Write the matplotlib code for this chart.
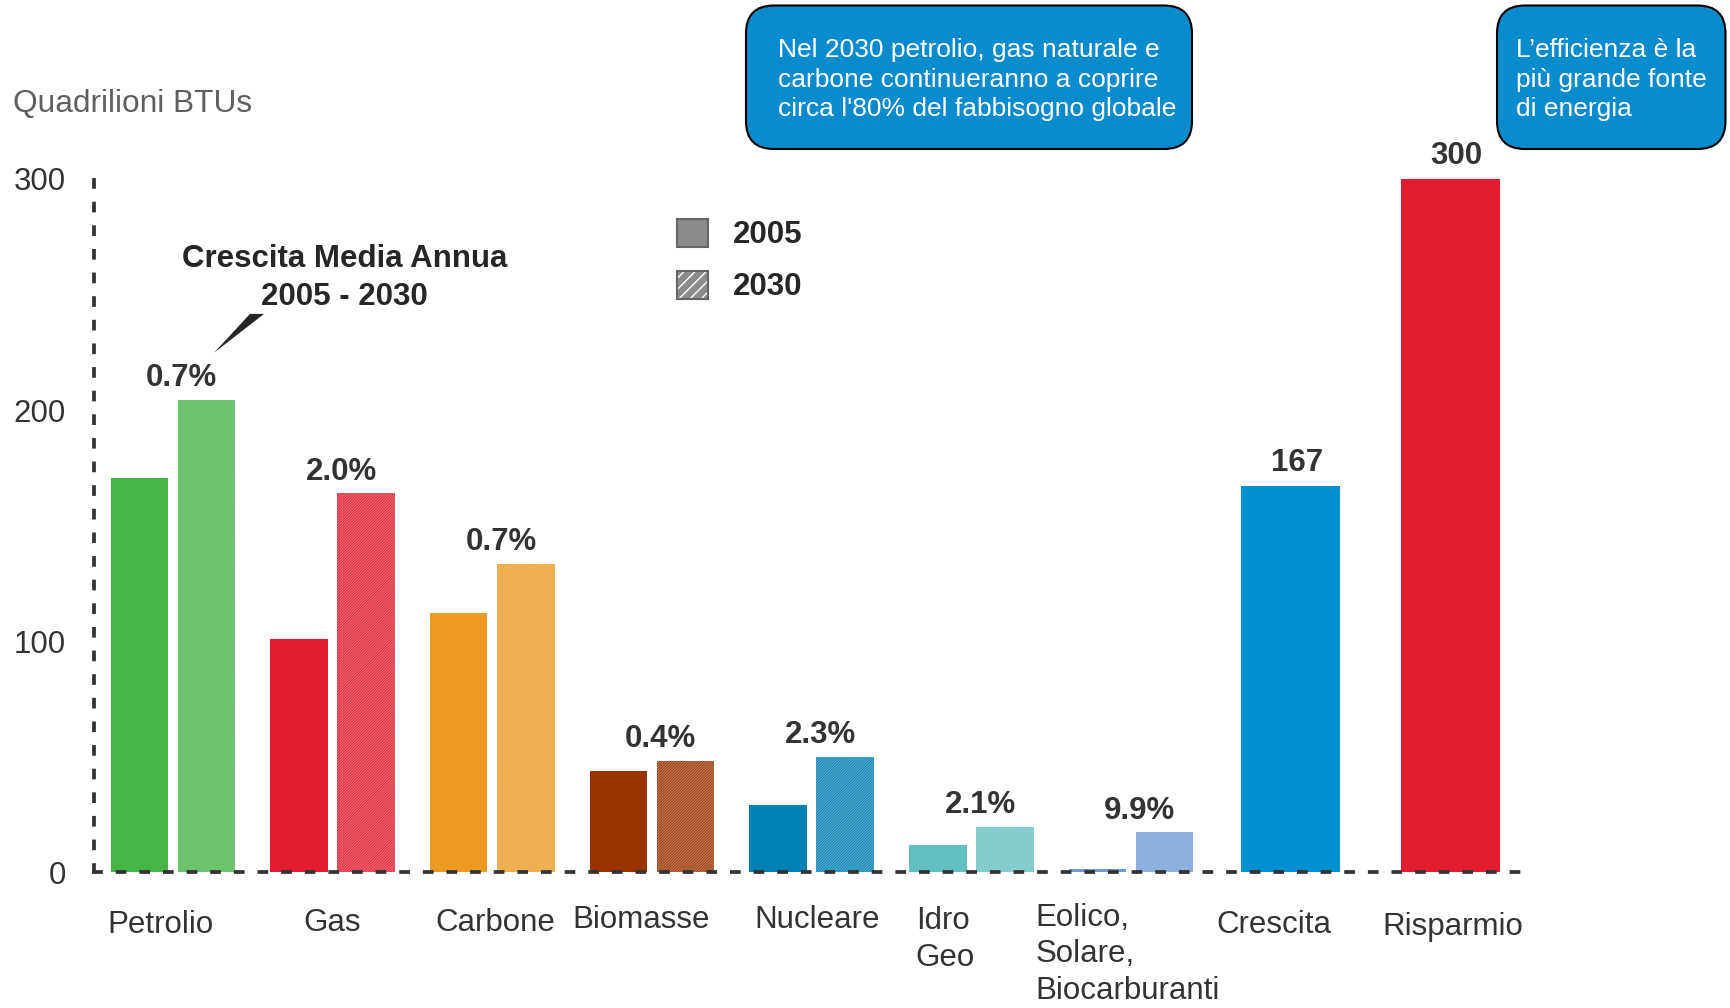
import matplotlib
matplotlib.use('Agg')
import matplotlib.pyplot as plt
import matplotlib.transforms as mtransforms
from matplotlib.patches import FancyBboxPatch, Patch, Polygon
from matplotlib.legend_handler import HandlerTuple
import numpy as np

plt.rcParams['font.family'] = ['Liberation Sans', 'DejaVu Sans']

# Dati (quadrilioni di BTU)
fonti = ['Petrolio', 'Gas', 'Carbone', 'Biomasse', 'Nucleare', 'Idro\nGeo',
         'Eolico,\nSolare,\nBiocarburanti']
val_2005 = [170.5, 100.8, 112.3, 44.0, 29.1, 11.9, 1.5]
val_2030 = [204.5, 163.9, 133.3, 48.3, 49.7, 19.6, 17.2]
crescita_annua = ['0.7%', '2.0%', '0.7%', '0.4%', '2.3%', '2.1%', '9.9%']
extra = ['Crescita', 'Risparmio']
val_extra = [167, 300]
yticks = [0, 100, 200, 300]

COL = ['#46b446', '#e21d30', '#eb9a22', '#9a3300', '#0080b3', '#64bfc2', '#6e9bd4']
COL_EXTRA = ['#008fd0', '#e21d30']
DARK = '#333333'
BOX = '#0a8bcd'

W, H = 1731, 1008
fig = plt.figure(figsize=(W / 100, H / 100), dpi=100)
ax = fig.add_axes([0.0542, 0.1347, 0.8323, 0.6878])

x = np.arange(len(fonti))
bw, off = 0.36, 0.21
ax.bar(x - off, val_2005, bw, color=COL, lw=0, zorder=1)
for xi, v, c in zip(x, val_2030, COL):
    with plt.rc_context({'hatch.linewidth': 0.9}):
        b = ax.bar(xi + off, v, bw, color=c, edgecolor=(1, 1, 1, 0.33), lw=0,
                   hatch='/' * 12, zorder=1)
    for p in b:
        if hasattr(p, 'set_hatch_linewidth'):
            p.set_hatch_linewidth(0.9)
    ax.annotate(crescita_annua[xi], (xi + 0.055, v), xytext=(0, 10),
                textcoords='offset points', ha='center', va='baseline',
                fontsize=22.5, fontweight='bold', color=DARK)

xe = np.arange(len(fonti), len(fonti) + len(extra))
ax.bar(xe, val_extra, 0.62, color=COL_EXTRA, lw=0, zorder=1)
for xi, v in zip(xe, val_extra):
    ax.annotate(f'{v}', (xi + 0.04, v), xytext=(0, 11), textcoords='offset points',
                ha='center', va='baseline', fontsize=22.5, fontweight='bold',
                color=DARK)

# etichette categorie (spostamenti in punti, come nell'originale)
etichette = fonti + extra
dx = [-9, 0, 2, -8, 4, -40, -68.5, -12, 2]
dy = [-27, -25.4, -25.4, -23.8, -23.8, -24.6, -22.3, -27, -28.7]
ha = ['center'] * 5 + ['left', 'left'] + ['center'] * 2
pos = list(x) + list(xe)
for xi, lab, ddx, ddy, h in zip(pos, etichette, dx, dy, ha):
    ax.annotate(lab, (xi, 0), xytext=(ddx, ddy), textcoords='offset points',
                ha=h, va='top', fontsize=22.5, color=DARK, linespacing=1.27,
                annotation_clip=False)

ax.set_xlim(-0.495, 8.527)
ax.set_ylim(0, 300)
ax.set_xticks([])
ax.set_yticks(yticks)
ax.tick_params(axis='y', length=0, pad=20, labelsize=22.5, labelcolor=DARK)
for s in ['top', 'right']:
    ax.spines[s].set_visible(False)
for s in ['left', 'bottom']:
    ax.spines[s].set_linestyle((0, (1.85, 4.45)))
    ax.spines[s].set_linewidth(2.7)
    ax.spines[s].set_color(DARK)
    ax.spines[s].set_zorder(3)

# titolo crescita con freccia a cuneo
ax.text(1.075, 257.1, 'Crescita Media Annua\n2005 - 2030', ha='center', va='center',
        fontsize=22.5, fontweight='bold', color='#262626', linespacing=1.34)
ax.add_patch(Polygon([[0.483, 241.6], [0.571, 241.6], [0.258, 224.8]],
                     closed=True, color='#262626', lw=0, clip_on=False))

# legenda
with plt.rc_context({'hatch.linewidth': 3.0}):
    h05 = Patch(facecolor='#8c8c8c', edgecolor='#666666', lw=1.5)
    h30a = Patch(facecolor='#8c8c8c', edgecolor='white', lw=0, hatch='///')
    h30b = Patch(facecolor='none', edgecolor='#666666', lw=1.5)
if hasattr(h30a, 'set_hatch_linewidth'):
    h30a.set_hatch_linewidth(3.0)
leg = ax.legend([h05, (h30a, h30b)], ['2005', '2030'],
                handler_map={tuple: HandlerTuple(ndivide=1)},
                loc='upper left', bbox_to_anchor=(0.391, 0.783),
                bbox_transform=fig.transFigure, frameon=False,
                prop={'size': 22.5, 'weight': 'bold'}, labelcolor='#262626',
                handlelength=1.0, handleheight=1.0, handletextpad=0.8,
                labelspacing=0.65, borderaxespad=0, borderpad=0)

# unita' di misura
fig.text(13 / W, 1 - 103.5 / H, 'Quadrilioni BTUs', ha='left', va='center',
         fontsize=22.8, color='#5f5f5f')

# riquadri di commento (coordinate in pixel dall'alto)
pxt = mtransforms.Affine2D().scale(1 / W, 1 / H) + fig.transFigure


def riquadro(x0, x1, testo, xt):
    y0, y1 = H - 149, H - 5.5
    fig.patches.append(FancyBboxPatch((x0, y0), x1 - x0, y1 - y0,
                                      boxstyle='round,pad=0,rounding_size=28',
                                      transform=pxt, facecolor=BOX,
                                      edgecolor='black', lw=1.5, figure=fig))
    fig.text(xt, H - 79.5, testo, transform=pxt, ha='left', va='center',
             fontsize=19, color='white', linespacing=1.28)


riquadro(746, 1192, "Nel 2030 petrolio, gas naturale e\ncarbone continueranno a coprire\n"
         "circa l'80% del fabbisogno globale", 778)
riquadro(1497, 1725.5, 'L\u2019efficienza è la\npiù grande fonte\ndi energia', 1516)

fig.savefig('out.png', dpi=100)
